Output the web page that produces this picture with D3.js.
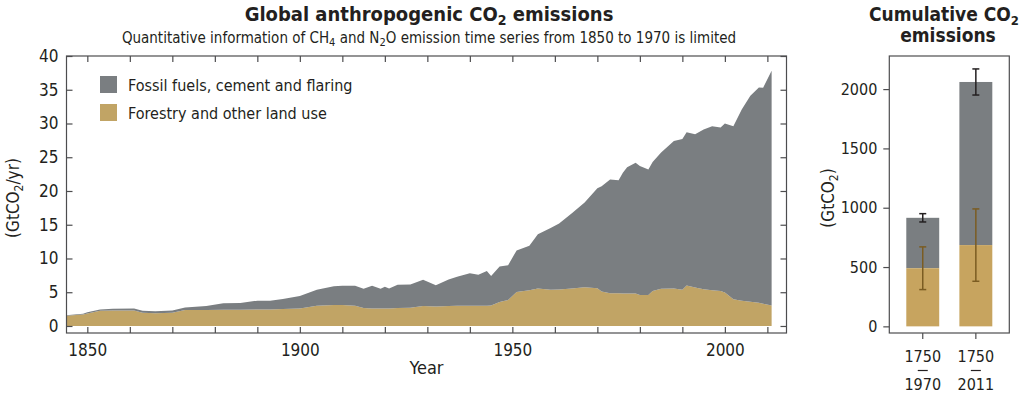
<!DOCTYPE html>
<html>
<head>
<meta charset="utf-8">
<script src="https://cdn.jsdelivr.net/npm/d3@7"></script>
<style>
  body { margin: 0; background: #fff; }
  svg text { font-family: "Liberation Sans Narrow", "DejaVu Sans Condensed", Roboto, sans-serif; fill: #231f20; }
</style>
</head>
<body>
<svg id="chart" width="1024" height="396"></svg>
<script>
// ---- data (GtCO2/yr) ----
const years  = [1845, 1849, 1850, 1853, 1856, 1861, 1863, 1866, 1870, 1873, 1878, 1882, 1886, 1890, 1893, 1896,
                1900, 1904, 1908, 1910, 1913, 1915, 1917, 1919, 1920, 1921, 1923, 1926, 1929, 1932, 1935, 1937,
                1940, 1942, 1944, 1945, 1947, 1949, 1951, 1954, 1956, 1959, 1961, 1964, 1967, 1970, 1971, 1973,
                1975, 1976, 1977, 1979, 1980, 1982, 1983, 1985, 1988, 1990, 1991, 1993, 1995, 1997, 1999, 2000,
                2002, 2004, 2006, 2008, 2009, 2011];
const landUse = [1.5, 1.7, 1.85, 2.25, 2.3, 2.3, 1.95, 1.9, 1.95, 2.35, 2.35, 2.4, 2.4, 2.45, 2.45, 2.5,
                 2.6, 3.0, 3.1, 3.1, 3.0, 2.65, 2.6, 2.6, 2.6, 2.6, 2.65, 2.7, 2.95, 2.9, 2.95, 3.0,
                 3.0, 3.0, 3.0, 3.05, 3.55, 3.85, 5.05, 5.3, 5.55, 5.35, 5.4, 5.55, 5.75, 5.6, 5.1, 4.85,
                 4.85, 4.8, 4.8, 4.8, 4.6, 4.6, 5.2, 5.5, 5.55, 5.35, 6.0, 5.7, 5.45, 5.3, 5.2, 4.95,
                 3.95, 3.75, 3.6, 3.45, 3.3, 3.05];
const fossilFuel = [0.1, 0.1, 0.2, 0.2, 0.25, 0.3, 0.3, 0.3, 0.35, 0.4, 0.6, 0.95, 1.0, 1.3, 1.3, 1.5,
                    1.85, 2.35, 2.8, 2.85, 2.95, 2.85, 3.35, 2.9, 3.2, 2.95, 3.45, 3.45, 3.9, 3.15, 3.95, 4.3,
                    4.8, 4.6, 5.15, 4.35, 5.25, 5.15, 6.15, 6.6, 8.05, 9.15, 9.8, 11.15, 12.55, 14.8, 15.6, 16.85,
                    16.75, 17.9, 18.7, 19.4, 19.1, 18.6, 19.1, 20.2, 21.85, 22.35, 22.7, 22.7, 23.65, 24.3, 24.2, 25.05,
                    25.65, 28.35, 30.5, 31.9, 32.0, 34.75];
const seriesNames = ["Fossil fuels, cement and flaring", "Forestry and other land use"];
const yTicks = [0, 5, 10, 15, 20, 25, 30, 35, 40];
const xTicks = d3.range(1850, 2011, 10);
const xLabels = [1850, 1900, 1950, 2000];

// cumulative 1750-1970 and 1750-2011 (GtCO2)
const periodStart = ["1750", "1750"];
const periodEnd = ["1970", "2011"];
const cumLand = [490, 685];
const cumTotal = [915, 2060];
const cumTotalLo = [880, 1950];
const cumTotalHi = [950, 2170];
const cumLandLo = [310, 380];
const cumLandHi = [670, 990];
const cumTicks = [0, 500, 1000, 1500, 2000];

const GREY = "#7a7e81", TAN = "#c1a465", TAN2 = "#c7a45f", FRAME = "#4d4d4f", ERR2 = "#7b5c22";
const svg = d3.select("#chart");

// ---------------- left panel ----------------
const L = { left: 66.5, top: 56, w: 720, h: 277 };
const x = d3.scaleLinear().domain([1845.1, 2014.5]).range([0, L.w]);
const y = d3.scaleLinear().domain([-1.04, 40]).range([L.h, 0]);
const g = svg.append("g").attr("transform", `translate(${L.left},${L.top})`);

const rows = years.map((yr, i) => ({ year: yr, land: landUse[i], fossil: fossilFuel[i] }));
const stacked = d3.stack().keys(["land", "fossil"])(rows);
const area = d3.area().x((d) => x(d.data.year)).y0((d) => y(d[0])).y1((d) => y(d[1]));
g.selectAll("path.layer").data(stacked).join("path").attr("class", "layer")
  .attr("d", area).attr("fill", (d) => (d.key === "land" ? TAN : GREY));

// frame + inward ticks on all four sides
g.append("rect").attr("width", L.w).attr("height", L.h).attr("fill", "none")
  .attr("stroke", FRAME).attr("stroke-width", 1.2);
const tk = 6;
g.append("g").call(d3.axisLeft(y).tickValues(yTicks).tickSize(-tk).tickPadding(8))
  .call((a) => a.select(".domain").remove());
g.append("g").attr("transform", `translate(${L.w},0)`)
  .call(d3.axisRight(y).tickValues(yTicks).tickSize(-tk).tickFormat(""))
  .call((a) => a.select(".domain").remove());
g.append("g").attr("transform", `translate(0,${L.h})`)
  .call(d3.axisBottom(x).tickValues(xTicks).tickSize(-tk).tickPadding(11)
    .tickFormat((d) => (xLabels.includes(d) ? d : "")))
  .call((a) => a.select(".domain").remove());
g.append("g")
  .call(d3.axisTop(x).tickValues(xTicks).tickSize(-tk).tickFormat(""))
  .call((a) => a.select(".domain").remove());
g.selectAll(".tick line").attr("stroke", FRAME).attr("stroke-width", 1.2);
g.selectAll(".tick text").style("font-size", "17px").attr("fill", "#231f20");

g.append("text").attr("x", x(1929.8)).attr("y", L.h + 41).attr("text-anchor", "middle")
  .style("font-size", "18px").text("Year");
const yl = svg.append("text").attr("transform", `translate(19,198) rotate(-90)`)
  .attr("text-anchor", "middle").style("font-size", "17px");
yl.append("tspan").text("(GtCO");
yl.append("tspan").attr("dy", 4).style("font-size", "12px").text("2");
yl.append("tspan").attr("dy", -4).text("/yr)");

// legend
const lg = g.append("g").attr("transform", "translate(33.5,20)");
[GREY, TAN].forEach((c, i) => {
  lg.append("rect").attr("y", i * 28).attr("width", 17).attr("height", 17).attr("fill", c);
  lg.append("text").attr("x", 28).attr("y", i * 28 + 14.5).style("font-size", "16px").text(seriesNames[i]);
});

// titles
const t1 = svg.append("text").attr("x", 429).attr("y", 21).attr("text-anchor", "middle")
  .style("font-size", "20px").style("font-weight", "bold");
t1.append("tspan").text("Global anthropogenic CO");
t1.append("tspan").attr("dy", 4).style("font-size", "14px").text("2");
t1.append("tspan").attr("dy", -4).text(" emissions");
const t2 = svg.append("text").attr("x", 429).attr("y", 43).attr("text-anchor", "middle")
  .style("font-size", "15px");
t2.append("tspan").text("Quantitative information of CH");
t2.append("tspan").attr("dy", 3).style("font-size", "11px").text("4");
t2.append("tspan").attr("dy", -3).text(" and N");
t2.append("tspan").attr("dy", 3).style("font-size", "11px").text("2");
t2.append("tspan").attr("dy", -3).text("O emission time series from 1850 to 1970 is limited");

// ---------------- right panel ----------------
const R = { left: 889.3, top: 56, w: 120, h: 277 };
const xb = d3.scaleBand().domain(periodEnd).range([0, R.w]).paddingInner(0.38).paddingOuter(0.32);
const yb = d3.scaleLinear().domain([-56, 2279]).range([R.h, 0]);
const gr = svg.append("g").attr("transform", `translate(${R.left},${R.top})`);

gr.selectAll("rect.fossil").data(periodEnd).join("rect").attr("class", "fossil")
  .attr("x", (d) => xb(d)).attr("width", xb.bandwidth())
  .attr("y", (d, i) => yb(cumTotal[i])).attr("height", (d, i) => yb(cumLand[i]) - yb(cumTotal[i]))
  .attr("fill", GREY);
gr.selectAll("rect.land").data(periodEnd).join("rect").attr("class", "land")
  .attr("x", (d) => xb(d)).attr("width", xb.bandwidth())
  .attr("y", (d, i) => yb(cumLand[i])).attr("height", (d, i) => yb(0) - yb(cumLand[i]))
  .attr("fill", TAN2);

function errBar(lo, hi, color, cap) {
  periodEnd.forEach((d, i) => {
    const cx = xb(d) + xb.bandwidth() / 2;
    const e = gr.append("g").attr("stroke", color).attr("stroke-width", 1.5);
    e.append("line").attr("x1", cx).attr("x2", cx).attr("y1", yb(lo[i])).attr("y2", yb(hi[i]));
    [lo[i], hi[i]].forEach((v) => e.append("line").attr("x1", cx - cap).attr("x2", cx + cap)
      .attr("y1", yb(v)).attr("y2", yb(v)));
  });
}
errBar(cumLandLo, cumLandHi, ERR2, 3.5);
errBar(cumTotalLo, cumTotalHi, "#231f20", 3.5);

gr.append("rect").attr("width", R.w).attr("height", R.h).attr("fill", "none")
  .attr("stroke", FRAME).attr("stroke-width", 1.2);
gr.append("g").call(d3.axisLeft(yb).tickValues(cumTicks).tickSize(6).tickPadding(6).tickFormat(d3.format("d")))
  .call((a) => a.select(".domain").remove());
const xa = gr.append("g").attr("transform", `translate(0,${R.h})`)
  .call(d3.axisBottom(xb).tickSize(6).tickFormat(""))
  .call((a) => a.select(".domain").remove());
gr.selectAll(".tick line").attr("stroke", FRAME).attr("stroke-width", 1.2);
gr.selectAll(".tick text").style("font-size", "16px").attr("fill", "#231f20");
// two-line period labels with a short rule between start and end year
xa.selectAll(".tick").each(function (d, i) {
  const tick = d3.select(this);
  tick.append("text").attr("text-anchor", "middle").style("font-size", "16px")
    .attr("y", 29).attr("fill", "#231f20").text(periodStart[i]);
  tick.append("line").attr("x1", -5).attr("x2", 5).attr("y1", 37.5).attr("y2", 37.5)
    .attr("stroke", "#231f20").attr("stroke-width", 1.2);
  tick.append("text").attr("text-anchor", "middle").style("font-size", "16px")
    .attr("y", 57).attr("fill", "#231f20").text(periodEnd[i]);
});

const yr2 = svg.append("text").attr("transform", `translate(834,198) rotate(-90)`)
  .attr("text-anchor", "middle").style("font-size", "17px");
yr2.append("tspan").text("(GtCO");
yr2.append("tspan").attr("dy", 4).style("font-size", "12px").text("2");
yr2.append("tspan").attr("dy", -4).text(")");

const rt = svg.append("text").attr("x", 944).attr("y", 21).attr("text-anchor", "middle")
  .style("font-size", "19px").style("font-weight", "bold");
rt.append("tspan").text("Cumulative CO");
rt.append("tspan").attr("dy", 4).style("font-size", "13px").text("2");
svg.append("text").attr("x", 948).attr("y", 42).attr("text-anchor", "middle")
  .style("font-size", "19px").style("font-weight", "bold").text("emissions");
</script>
</body>
</html>
